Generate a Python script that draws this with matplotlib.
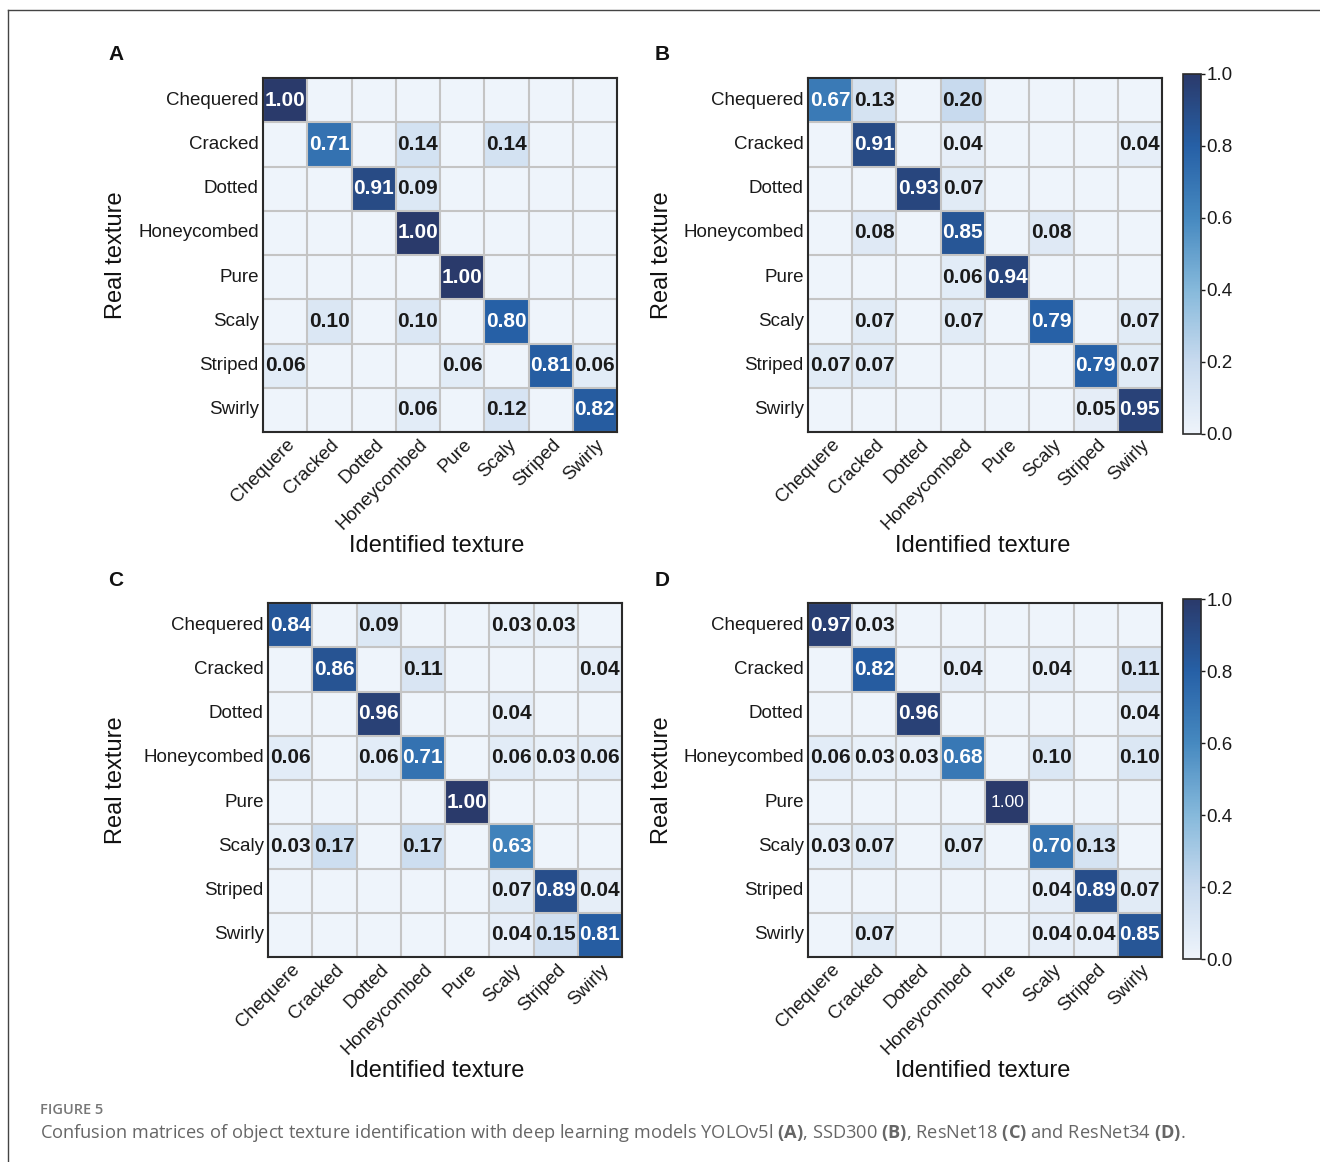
import numpy as np
import matplotlib
matplotlib.use('Agg')
import matplotlib.pyplot as plt
from matplotlib.colors import LinearSegmentedColormap
from matplotlib.lines import Line2D
from matplotlib.transforms import ScaledTranslation

plt.rcParams['font.family'] = ['Liberation Sans', 'DejaVu Sans']
plt.rcParams['mathtext.fontset'] = 'custom'
plt.rcParams['mathtext.bf'] = 'Open Sans:bold'
plt.rcParams['mathtext.rm'] = 'Open Sans'

# labels
row_labels = ['Chequered', 'Cracked', 'Dotted', 'Honeycombed', 'Pure', 'Scaly', 'Striped', 'Swirly']
col_labels = ['Chequere', 'Cracked', 'Dotted', 'Honeycombed', 'Pure', 'Scaly', 'Striped', 'Swirly']

# YOLOv5l
cm_a = [[1.00, 0, 0, 0, 0, 0, 0, 0],
        [0, 0.71, 0, 0.14, 0, 0.14, 0, 0],
        [0, 0, 0.91, 0.09, 0, 0, 0, 0],
        [0, 0, 0, 1.00, 0, 0, 0, 0],
        [0, 0, 0, 0, 1.00, 0, 0, 0],
        [0, 0.10, 0, 0.10, 0, 0.80, 0, 0],
        [0.06, 0, 0, 0, 0.06, 0, 0.81, 0.06],
        [0, 0, 0, 0.06, 0, 0.12, 0, 0.82]]

# SSD300
cm_b = [[0.67, 0.13, 0, 0.20, 0, 0, 0, 0],
        [0, 0.91, 0, 0.04, 0, 0, 0, 0.04],
        [0, 0, 0.93, 0.07, 0, 0, 0, 0],
        [0, 0.08, 0, 0.85, 0, 0.08, 0, 0],
        [0, 0, 0, 0.06, 0.94, 0, 0, 0],
        [0, 0.07, 0, 0.07, 0, 0.79, 0, 0.07],
        [0.07, 0.07, 0, 0, 0, 0, 0.79, 0.07],
        [0, 0, 0, 0, 0, 0, 0.05, 0.95]]

# ResNet18
cm_c = [[0.84, 0, 0.09, 0, 0, 0.03, 0.03, 0],
        [0, 0.86, 0, 0.11, 0, 0, 0, 0.04],
        [0, 0, 0.96, 0, 0, 0.04, 0, 0],
        [0.06, 0, 0.06, 0.71, 0, 0.06, 0.03, 0.06],
        [0, 0, 0, 0, 1.00, 0, 0, 0],
        [0.03, 0.17, 0, 0.17, 0, 0.63, 0, 0],
        [0, 0, 0, 0, 0, 0.07, 0.89, 0.04],
        [0, 0, 0, 0, 0, 0.04, 0.15, 0.81]]

# ResNet34
cm_d = [[0.97, 0.03, 0, 0, 0, 0, 0, 0],
        [0, 0.82, 0, 0.04, 0, 0.04, 0, 0.11],
        [0, 0, 0.96, 0, 0, 0, 0, 0.04],
        [0.06, 0.03, 0.03, 0.68, 0, 0.10, 0, 0.10],
        [0, 0, 0, 0, 1.00, 0, 0, 0],
        [0.03, 0.07, 0, 0.07, 0, 0.70, 0.13, 0],
        [0, 0, 0, 0, 0, 0.04, 0.89, 0.07],
        [0, 0.07, 0, 0, 0, 0.04, 0.04, 0.85]]

cbar_ticks = [0.0, 0.2, 0.4, 0.6, 0.8, 1.0]

cmap = LinearSegmentedColormap.from_list('blu', [
    (0.0, '#eef4fb'), (0.2, '#c8daee'), (0.4, '#86b9db'),
    (0.6, '#4689c0'), (0.8, '#2660a6'), (1.0, '#2a3a6b')])

W, H = 1320, 1162
fig = plt.figure(figsize=(W / 100, H / 100), dpi=100)

def fx(px):
    return px / W

def fy(py):
    return 1 - py / H

# panels: label, matrix, heatmap box (left, top) in px, colorbar, plain-text cells
panels = [('A', cm_a, 263, 78, False, []),
          ('B', cm_b, 808, 78, True, []),
          ('C', cm_c, 268, 603, False, []),
          ('D', cm_d, 808, 603, True, [(4, 4)])]
size = 354

for name, cm, left, top, has_cbar, plain in panels:
    m = np.array(cm)
    ax = fig.add_axes([fx(left), fy(top + size), size / W, size / H])
    im = ax.imshow(m, cmap=cmap, vmin=0, vmax=1, aspect='auto')
    n = m.shape[0]
    ax.set_xticks(np.arange(n + 1) - 0.5, minor=True)
    ax.set_yticks(np.arange(n + 1) - 0.5, minor=True)
    ax.grid(which='minor', color='#c4c4c4', linewidth=1.5)
    ax.tick_params(which='minor', length=0)
    ax.tick_params(which='major', length=0, pad=3)
    ax.set_xticks(np.arange(n))
    ax.set_yticks(np.arange(n))
    ax.set_xticklabels(col_labels, rotation=45, ha='right', va='center',
                       rotation_mode='anchor', fontsize=13.5, color='#1a1a1a')
    ax.set_yticklabels(row_labels, fontsize=13.5, color='#1a1a1a')
    shift = ScaledTranslation(7 / 100, -6 / 100, fig.dpi_scale_trans)
    for lab in ax.get_xticklabels():
        lab.set_transform(lab.get_transform() + shift)
    yshift = ScaledTranslation(0, 2 / 100, fig.dpi_scale_trans)
    for lab in ax.get_yticklabels():
        lab.set_transform(lab.get_transform() + yshift)
    for s in ax.spines.values():
        s.set_color('#2a2a2a')
        s.set_linewidth(1.5)
    for i in range(n):
        for j in range(n):
            v = m[i, j]
            if v == 0:
                continue
            col = 'white' if v > 0.5 else '#1a1a1a'
            if (i, j) in plain:
                ax.text(j, i, f'{v:.2f}', ha='center', va='center', color=col, fontsize=12.5)
            else:
                ax.text(j, i, f'{v:.2f}', ha='center', va='center', color=col,
                        fontsize=15, fontweight='bold')

    lx = 116 if left < 600 else 662
    cx = 437 if left < 600 else 983
    fig.text(fx(lx), fy(top + 177), 'Real texture', rotation=90,
             ha='center', va='center', fontsize=17, color='#111111')
    fig.text(fx(cx), fy(top + 468), 'Identified texture',
             ha='center', va='center', fontsize=17, color='#111111')
    fig.text(fx(108 if left < 600 else 655), fy(top - 23), name, ha='left', va='center',
             fontsize=15, fontweight='bold', color='#111111')

    if has_cbar:
        cax = fig.add_axes([fx(1183), fy(top + 356), 18 / W, 360 / H])
        cb = fig.colorbar(im, cax=cax, ticks=cbar_ticks)
        cb.ax.tick_params(labelsize=13.5, length=3, width=1, colors='#1a1a1a', pad=1)
        cb.ax.set_yticklabels([f'{t:.1f}' for t in cbar_ticks])
        cb.outline.set_edgecolor('#2a2a2a')
        cb.outline.set_linewidth(1.2)

# frame lines
fig.add_artist(Line2D([fx(8), 1], [fy(10), fy(10)], color='#444444', linewidth=1))
fig.add_artist(Line2D([fx(8), fx(8)], [fy(10), 0], color='#444444', linewidth=1))

# caption
fig.text(fx(40), fy(1110), 'FIGURE 5', ha='left', va='center', fontsize=10.5,
         family='Open Sans', fontweight='semibold', color='#777777')
fig.text(fx(40), fy(1133),
         r'Confusion matrices of object texture identification with deep learning models '
         r'YOLOv5l $\mathbf{(A)}$, SSD300 $\mathbf{(B)}$, ResNet18 $\mathbf{(C)}$ and ResNet34 $\mathbf{(D)}$.',
         ha='left', va='center', fontsize=13.15, family='Open Sans', color='#666666')

fig.savefig('out.png', dpi=100)
